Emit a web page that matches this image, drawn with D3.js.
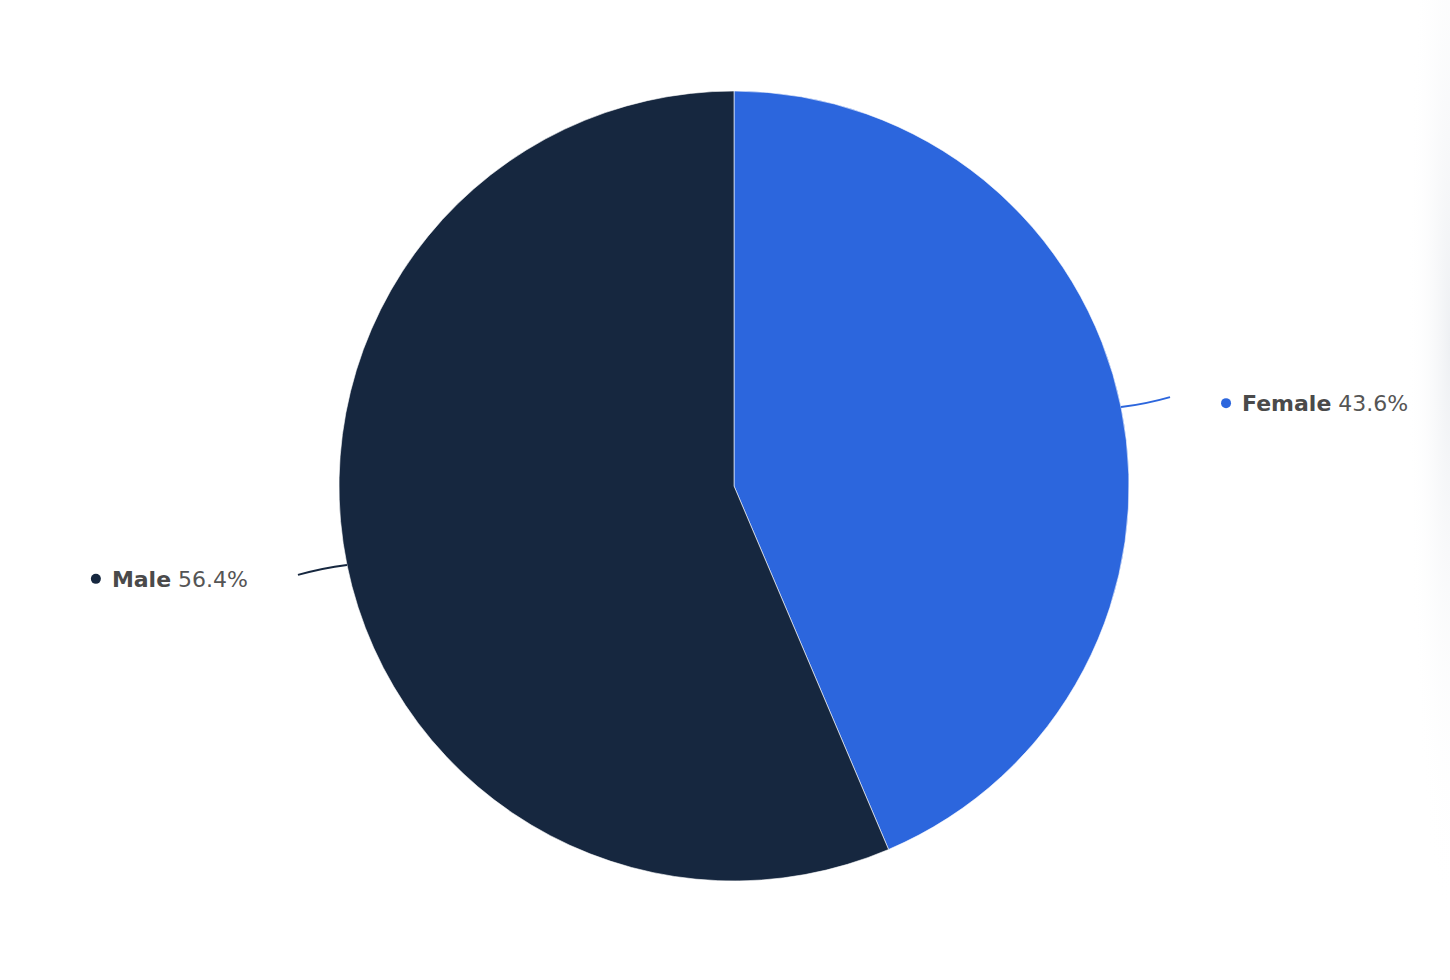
<!DOCTYPE html>
<html>
<head>
<meta charset="utf-8">
<script src="https://cdn.jsdelivr.net/npm/d3@7"></script>
<style>
  body { margin: 0; background: #fff; }
  svg { display: block; }
  .lbl-name { font-weight: 700; fill: #4a4a4a; }
  .lbl-value { font-weight: 400; fill: #555; }
</style>
</head>
<body>
<svg width="1450" height="980"></svg>
<script>
const categories = ['Female', 'Male']
const shares = [43.6, 56.4]
const colors = ['#2c66dd', '#16273f']

const svg = d3.select('svg')
const width = +svg.attr('width')
const height = +svg.attr('height')

const cx = 734
const cy = 486
const radius = 395

const data = categories.map((c, i) => ({name: c, value: shares[i], color: colors[i]}))

// faint shade on the right edge
const defs = svg.append('defs')
const grad = defs.append('radialGradient')
  .attr('id', 'edgeShade')
  .attr('cx', 1).attr('cy', 0.35).attr('r', 0.6)
grad.append('stop').attr('offset', '0%').attr('stop-color', '#eef0f3').attr('stop-opacity', 1)
grad.append('stop').attr('offset', '100%').attr('stop-color', '#ffffff').attr('stop-opacity', 0)
svg.append('rect')
  .attr('x', 1380).attr('y', 0)
  .attr('width', 70).attr('height', 980)
  .attr('fill', 'url(#edgeShade)')

const pie = d3.pie()
  .value(d => d.value)
  .sort(null)

const arc = d3.arc()
  .innerRadius(0)
  .outerRadius(radius)

const g = svg.append('g')
  .attr('transform', `translate(${cx}, ${cy})`)

const arcs = pie(data)

g.selectAll('path.slice')
  .data(arcs)
  .enter()
  .append('path')
  .attr('class', 'slice')
  .attr('d', arc)
  .attr('fill', d => d.data.color)
  .attr('stroke', '#ffffff')
  .attr('stroke-opacity', 0.6)
  .attr('stroke-width', 1)

// connectors + labels
const outR = radius + 50
arcs.forEach(d => {
  const mid = (d.startAngle + d.endAngle) / 2
  const right = Math.sin(mid) > 0
  const sx = Math.sin(mid) * radius
  const sy = -Math.cos(mid) * radius
  const ex = Math.sin(mid) * outR
  const ey = -Math.cos(mid) * outR
  const qx = (sx + ex) / 2
  const qy = (sy + ey) / 2 + (right ? 2 : -2)

  g.append('path')
    .attr('d', `M${sx},${sy} Q${qx},${qy} ${ex},${ey}`)
    .attr('fill', 'none')
    .attr('stroke', d.data.color)
    .attr('stroke-width', 2)

  const ly = ey + (right ? 6 : 4)
  const lbl = g.append('g')
  const text = lbl.append('text')
    .attr('y', ly)
    .attr('dy', '0.36em')
    .style('font-family', '"DejaVu Sans", "Open Sans", sans-serif')
    .style('font-size', '22px')
  text.append('tspan').attr('class', 'lbl-name').text(d.data.name)
  text.append('tspan').attr('class', 'lbl-value').text(' ' + d.data.value + '%')

  if (right) {
    const dotX = ex + 56
    lbl.append('circle').attr('cx', dotX).attr('cy', ly).attr('r', 5).attr('fill', d.data.color)
    text.attr('x', dotX + 16).attr('text-anchor', 'start')
  } else {
    const textEnd = ex - 50
    text.attr('x', textEnd).attr('text-anchor', 'end')
    const w = text.node().getComputedTextLength()
    lbl.append('circle').attr('cx', textEnd - w - 16).attr('cy', ly).attr('r', 5).attr('fill', d.data.color)
  }
})
</script>
</body>
</html>
